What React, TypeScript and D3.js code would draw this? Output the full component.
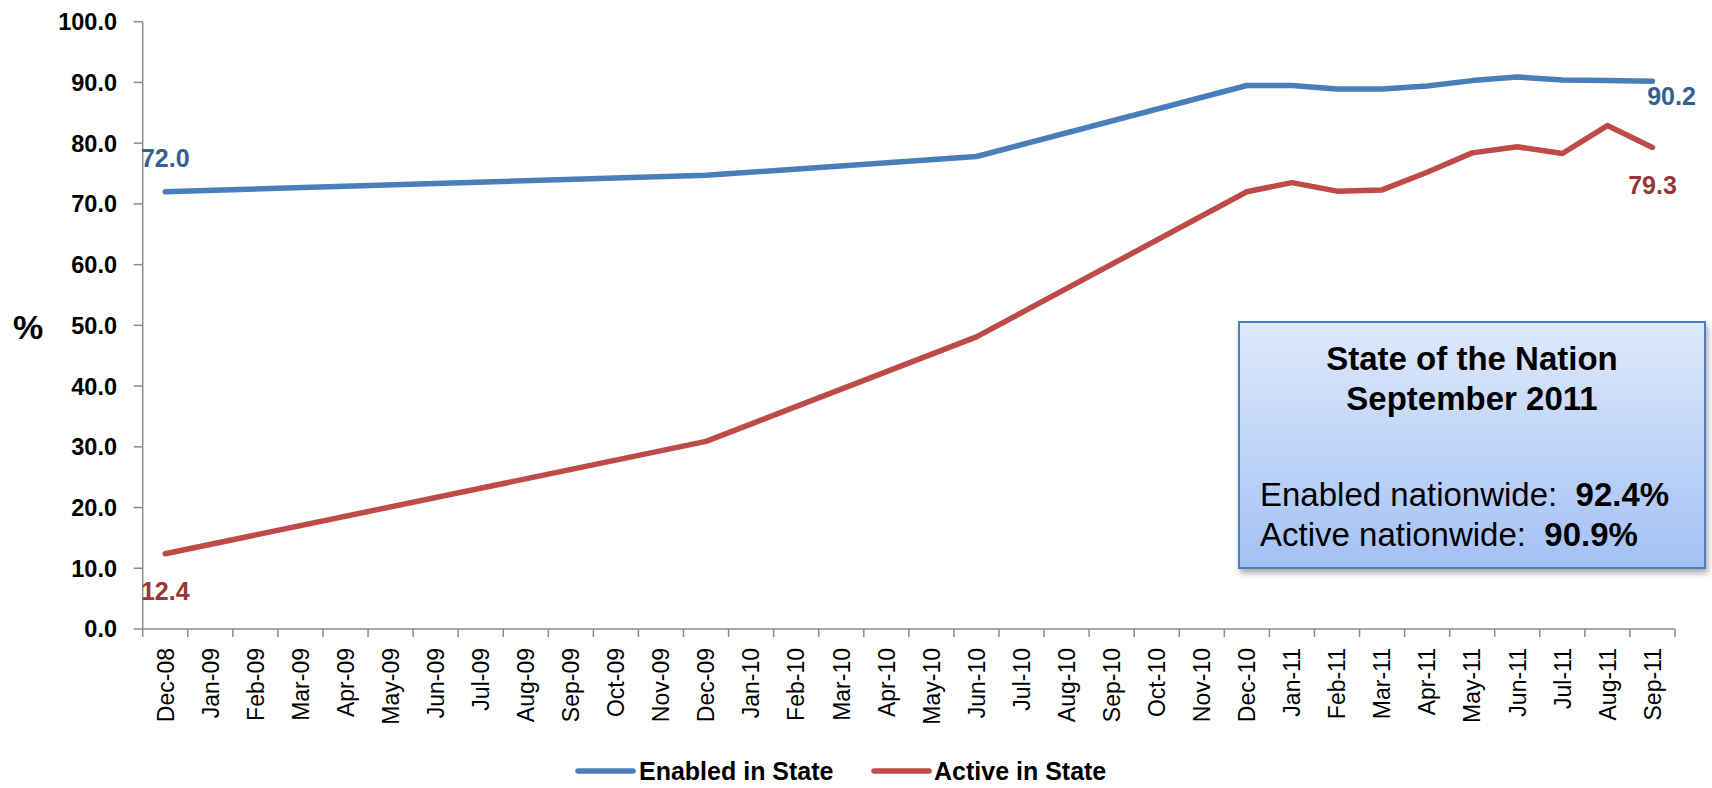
import React from "react";
import * as d3 from "d3";

const months = [
  "Dec-08","Jan-09","Feb-09","Mar-09","Apr-09","May-09","Jun-09","Jul-09","Aug-09","Sep-09","Oct-09","Nov-09",
  "Dec-09","Jan-10","Feb-10","Mar-10","Apr-10","May-10","Jun-10","Jul-10","Aug-10","Sep-10","Oct-10","Nov-10",
  "Dec-10","Jan-11","Feb-11","Mar-11","Apr-11","May-11","Jun-11","Jul-11","Aug-11","Sep-11",
];

// Observed values only (months without a reading are null and the line connects across them)
const enabledInState: (number | null)[] = [
  72.0, null, null, null, null, null, null, null, null, null, null, null,
  74.7, null, null, null, null, null, 77.8, null, null, null, null, null,
  89.5, 89.5, 88.9, 88.9, 89.4, 90.3, 90.9, 90.4, 90.3, 90.2,
];
const activeInState: (number | null)[] = [
  12.4, null, null, null, null, null, null, null, null, null, null, null,
  30.9, null, null, null, null, null, 48.1, null, null, null, null, null,
  72.0, 73.5, 72.1, 72.3, 75.2, 78.4, 79.4, 78.3, 82.9, 79.3,
];
const yTicks = [0, 10, 20, 30, 40, 50, 60, 70, 80, 90, 100];
const seriesNames = ["Enabled in State", "Active in State"];
const boxTitle = ["State of the Nation", "September 2011"];
const boxLines = [
  { label: "Enabled nationwide:\u00a0\u00a0", value: "92.4%" },
  { label: "Active nationwide:\u00a0\u00a0", value: "90.9%" },
];

const W = 1712;
const H = 788;
const FONT = "'Liberation Sans', Arial, sans-serif";
const BLUE = "#4a7ebb";
const RED = "#be4b48";
const BLUE_LABEL = "#376092";
const RED_LABEL = "#953735";
const AXIS = "#8c8c8c";

export default function App() {
  const x = d3.scaleBand<string>().domain(months).range([142.7, 1675]).padding(0);
  const y = d3.scaleLinear().domain([0, 100]).range([629, 21.7]);
  const cx = (m: string) => (x(m) as number) + x.bandwidth() / 2;

  const pts = (vals: (number | null)[]) =>
    months
      .map((m, i) => ({ m, v: vals[i] }))
      .filter((d) => d.v !== null) as { m: string; v: number }[];

  const line = d3
    .line<{ m: string; v: number }>()
    .x((d) => cx(d.m))
    .y((d) => y(d.v));

  const enabledPts = pts(enabledInState);
  const activePts = pts(activeInState);
  const eFirst = enabledPts[0];
  const eLast = enabledPts[enabledPts.length - 1];
  const aFirst = activePts[0];
  const aLast = activePts[activePts.length - 1];

  const boundaries = [...months.map((m) => x(m) as number), x.range()[1]];
  const x0 = x.range()[0];
  const yBase = y(0);

  return (
    <div style={{ position: "absolute", left: 0, top: 0 }}>
      <svg width={W} height={H} style={{ display: "block", background: "#fff" }} fontFamily={FONT}>
        <defs>
          <linearGradient id="boxGrad" x1="0" y1="0" x2="0" y2="1">
            <stop offset="0" stopColor="#dfe9fb" />
            <stop offset="1" stopColor="#a3c1f5" />
          </linearGradient>
          <filter id="shadow" x="-10%" y="-10%" width="125%" height="130%">
            <feDropShadow dx="2" dy="4" stdDeviation="3" floodColor="#000" floodOpacity="0.35" />
          </filter>
        </defs>

        {/* Y axis */}
        <line x1={x0} x2={x0} y1={y(100)} y2={yBase} stroke={AXIS} strokeWidth={1.5} />
        {yTicks.map((t) => (
          <g key={t}>
            <line x1={x0 - 9} x2={x0} y1={y(t)} y2={y(t)} stroke={AXIS} strokeWidth={1.5} />
            <text x={117} y={y(t)} dy="0.36em" textAnchor="end" fontSize={23.5} fontWeight="bold" fill="#000">
              {d3.format(".1f")(t)}
            </text>
          </g>
        ))}
        <text x={28} y={327} dy="0.36em" textAnchor="middle" fontSize={34} fontWeight="bold" fill="#000">%</text>

        {/* X axis */}
        <line x1={x0} x2={x.range()[1]} y1={yBase} y2={yBase} stroke={AXIS} strokeWidth={1.5} />
        {boundaries.map((b, i) => (
          <line key={i} x1={b} x2={b} y1={yBase} y2={yBase + 8} stroke={AXIS} strokeWidth={1.5} />
        ))}
        {months.map((m) => (
          <text
            key={m}
            transform={`translate(${cx(m)},648) rotate(-90)`}
            dy="0.36em"
            textAnchor="end"
            fontSize={23}
            fill="#000"
          >
            {m}
          </text>
        ))}

        {/* Lines */}
        <path d={line(enabledPts) || ""} fill="none" stroke={BLUE} strokeWidth={5.5} strokeLinejoin="round" strokeLinecap="round" />
        <path d={line(activePts) || ""} fill="none" stroke={RED} strokeWidth={5.5} strokeLinejoin="round" strokeLinecap="round" />

        {/* Data labels */}
        <text x={cx(eFirst.m)} y={y(eFirst.v) - 25} textAnchor="middle" fontSize={25} fontWeight="bold" fill={BLUE_LABEL}>
          {d3.format(".1f")(eFirst.v)}
        </text>
        <text x={cx(eLast.m) + 19} y={y(eLast.v) + 24} textAnchor="middle" fontSize={25} fontWeight="bold" fill={BLUE_LABEL}>
          {d3.format(".1f")(eLast.v)}
        </text>
        <text x={cx(aFirst.m)} y={y(aFirst.v) + 46} textAnchor="middle" fontSize={25} fontWeight="bold" fill={RED_LABEL}>
          {d3.format(".1f")(aFirst.v)}
        </text>
        <text x={cx(aLast.m)} y={y(aLast.v) + 47} textAnchor="middle" fontSize={25} fontWeight="bold" fill={RED_LABEL}>
          {d3.format(".1f")(aLast.v)}
        </text>

        {/* Info box */}
        <rect x={1239} y={322} width={466} height={246} fill="url(#boxGrad)" stroke="#4a7ebb" strokeWidth={2} filter="url(#shadow)" />
        <text x={1472} y={370} textAnchor="middle" fontSize={33} fontWeight="bold" fill="#000">{boxTitle[0]}</text>
        <text x={1472} y={410} textAnchor="middle" fontSize={33} fontWeight="bold" fill="#000">{boxTitle[1]}</text>
        {boxLines.map((l, i) => (
          <text key={i} x={1260} y={506 + i * 40} fontSize={33} fill="#000">
            {l.label}
            <tspan fontWeight="bold">{l.value}</tspan>
          </text>
        ))}

        {/* Legend */}
        <line x1={578} x2={633} y1={771} y2={771} stroke={BLUE} strokeWidth={5.5} strokeLinecap="round" />
        <text x={639} y={780} fontSize={25} fontWeight="bold" fill="#000">{seriesNames[0]}</text>
        <line x1={874} x2={929} y1={771} y2={771} stroke={RED} strokeWidth={5.5} strokeLinecap="round" />
        <text x={934} y={780} fontSize={25} fontWeight="bold" fill="#000">{seriesNames[1]}</text>
      </svg>
    </div>
  );
}
